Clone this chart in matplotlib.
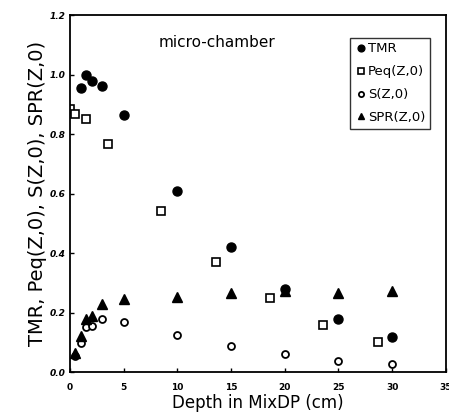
"""TMR, Peq, S and SPR against depth in MixDP for the micro-chamber."""
import matplotlib
matplotlib.use("Agg")
import matplotlib.pyplot as plt

# -- values --
tmr_depth = [1.0, 1.5, 2.0, 3.0, 5.0, 10.0, 15.0, 20.0, 25.0, 30.0]
tmr_vals = [0.955, 1.0, 0.98, 0.96, 0.865, 0.61, 0.42, 0.28, 0.178, 0.118]

peq_depth = [0.0, 0.5, 1.5, 3.5, 8.5, 13.6, 18.6, 23.6, 28.7]
peq_vals = [0.885, 0.867, 0.85, 0.765, 0.54, 0.37, 0.25, 0.158, 0.10]

s_depth = [0.5, 1.0, 1.5, 2.0, 3.0, 5.0, 10.0, 15.0, 20.0, 25.0, 30.0]
s_vals = [0.055, 0.097, 0.152, 0.155, 0.18, 0.168, 0.123, 0.087, 0.06, 0.038, 0.027]

spr_depth = [0.5, 1.0, 1.5, 2.0, 3.0, 5.0, 10.0, 15.0, 20.0, 25.0, 30.0]
spr_vals = [0.063, 0.12, 0.18, 0.188, 0.228, 0.245, 0.252, 0.265, 0.272, 0.267, 0.272]

x_ticks = [0, 5, 10, 15, 20, 25, 30, 35]
y_ticks = [0.0, 0.2, 0.4, 0.6, 0.8, 1.0, 1.2]

fig = plt.figure(figsize=(4.49, 4.19), dpi=100)
ax = fig.add_axes([0.156, 0.112, 0.837, 0.852])

ax.plot(tmr_depth, tmr_vals, "o", color="black", markersize=6.5, label="TMR")
ax.plot(peq_depth, peq_vals, "s", mfc="white", mec="black", mew=1.2,
        markersize=5.5, label="Peq(Z,0)")
ax.plot(s_depth, s_vals, "o", mfc="white", mec="black", mew=1.3,
        markersize=5, label="S(Z,0)")
ax.plot(spr_depth, spr_vals, "^", color="black", markersize=6.5, label="SPR(Z,0)")

ax.set_xlim(0, 35)
ax.set_ylim(0, 1.2)
ax.set_xticks(x_ticks)
ax.set_yticks(y_ticks)
ax.set_yticklabels([f"{v:.1f}" for v in y_ticks], fontstyle="italic")
ax.tick_params(direction="in", length=3, labelsize=6.5, width=1)
ax.tick_params(axis="x", pad=8)
for lbl in ax.get_xticklabels() + ax.get_yticklabels():
    lbl.set_fontweight("bold")
for sp in ax.spines.values():
    sp.set_linewidth(1.3)

ax.set_xlabel("Depth in MixDP (cm)", fontsize=12, labelpad=1)
ax.set_ylabel("TMR, Peq(Z,0), S(Z,0), SPR(Z,0)", fontsize=14, labelpad=2)

ax.text(0.235, 0.91, "micro-chamber", transform=ax.transAxes, fontsize=11)

leg = ax.legend(loc="upper right", bbox_to_anchor=(0.975, 0.955), fontsize=9.5,
                handletextpad=0.0, handlelength=1.0, borderpad=0.35,
                labelspacing=0.75, frameon=True, fancybox=False,
                markerscale=0.75)
leg.get_frame().set_edgecolor("black")
leg.get_frame().set_linewidth(1.0)

fig.savefig("out.png", dpi=100)
